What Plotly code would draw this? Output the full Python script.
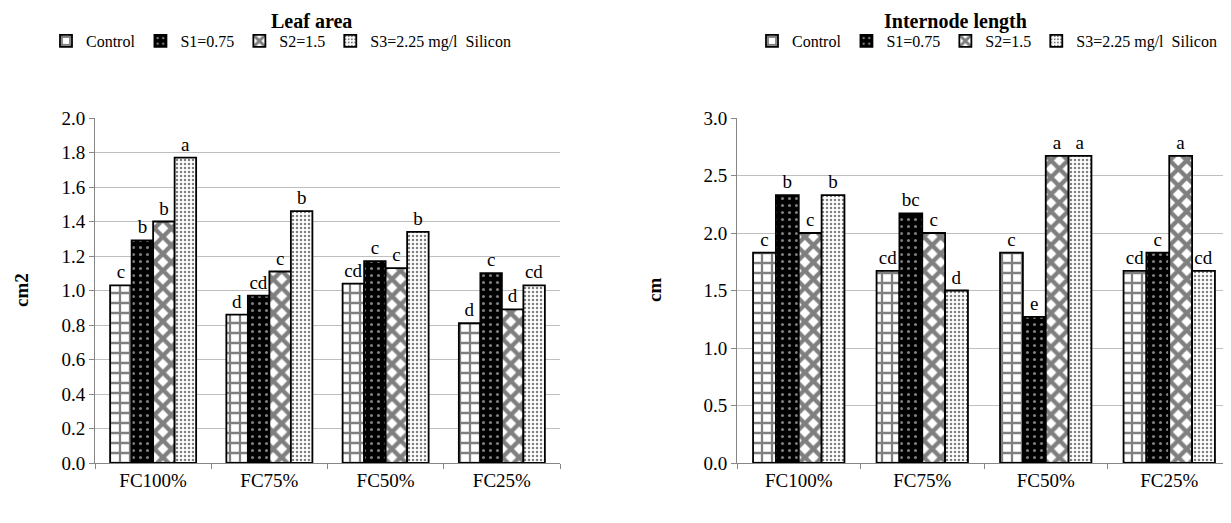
import plotly.graph_objects as go

categories = ["FC100%", "FC75%", "FC50%", "FC25%"]
series_names = ["Control", "S1=0.75", "S2=1.5", "S3=2.25 mg/l  Silicon"]

leaf_control = [1.03, 0.86, 1.04, 0.81]
leaf_s1 = [1.29, 0.97, 1.17, 1.10]
leaf_s2 = [1.40, 1.11, 1.13, 0.89]
leaf_s3 = [1.77, 1.46, 1.34, 1.03]
leaf_lbl_control = ["c", "d", "cd", "d"]
leaf_lbl_s1 = ["b", "cd", "c", "c"]
leaf_lbl_s2 = ["b", "c", "c", "d"]
leaf_lbl_s3 = ["a", "b", "b", "cd"]

int_control = [1.83, 1.67, 1.83, 1.67]
int_s1 = [2.33, 2.17, 1.27, 1.83]
int_s2 = [2.00, 2.00, 2.67, 2.67]
int_s3 = [2.33, 1.50, 2.67, 1.67]
int_lbl_control = ["c", "cd", "c", "cd"]
int_lbl_s1 = ["b", "bc", "e", "c"]
int_lbl_s2 = ["c", "c", "a", "a"]
int_lbl_s3 = ["b", "d", "a", "cd"]

FONT = "Liberation Serif"
OFF = 8  # page body margin
W, H = 1231 - OFF, 523 - OFF

def px_x(rx):
    return (rx - OFF) / W

def px_y(ry):
    return (H - (ry - OFF)) / H

patterns = [
    dict(shape="+", fgcolor="black", bgcolor="white", size=10, solidity=0.4),
    dict(shape=".", fgcolor="white", bgcolor="black", size=7, solidity=0.15),
    dict(shape="x", fgcolor="black", bgcolor="white", size=12, solidity=0.6),
    dict(shape=".", fgcolor="black", bgcolor="white", size=4, solidity=0.3),
]

fig = go.Figure()

left_vals = [leaf_control, leaf_s1, leaf_s2, leaf_s3]
left_lbls = [leaf_lbl_control, leaf_lbl_s1, leaf_lbl_s2, leaf_lbl_s3]
right_vals = [int_control, int_s1, int_s2, int_s3]
right_lbls = [int_lbl_control, int_lbl_s1, int_lbl_s2, int_lbl_s3]

for i, name in enumerate(series_names):
    fig.add_trace(go.Bar(
        x=categories, y=left_vals[i], name=name, text=left_lbls[i],
        textposition="outside", constraintext="none", cliponaxis=False,
        textfont=dict(family=FONT, size=19, color="black"),
        marker=dict(color="white", pattern=patterns[i],
                    line=dict(color="black", width=1.8)),
        xaxis="x", yaxis="y", legend="legend", offsetgroup=str(i),
        hoverinfo="skip",
    ))
for i, name in enumerate(series_names):
    fig.add_trace(go.Bar(
        x=categories, y=right_vals[i], name=name, text=right_lbls[i],
        textposition="outside", constraintext="none", cliponaxis=False,
        textfont=dict(family=FONT, size=19, color="black"),
        marker=dict(color="white", pattern=patterns[i],
                    line=dict(color="black", width=1.8)),
        xaxis="x2", yaxis="y2", legend="legend2", offsetgroup=str(i),
        hoverinfo="skip",
    ))

ydom = [px_y(463), px_y(118)]
axis_common = dict(showline=True, linecolor="#868686", linewidth=1,
                   ticks="outside", tickcolor="#868686", ticklen=5,
                   tickfont=dict(family=FONT, size=19, color="black"),
                   automargin=False, zeroline=False)

legend_common = dict(orientation="h", xanchor="center", yanchor="middle",
                     y=px_y(41), font=dict(family=FONT, size=16, color="black"),
                     itemwidth=30, bgcolor="rgba(0,0,0,0)",
                     traceorder="normal")

fig.update_layout(
    width=W, height=H,
    margin=dict(l=0, r=0, t=0, b=0),
    paper_bgcolor="white", plot_bgcolor="white",
    barmode="group", bargap=0.26, bargroupgap=0,
    font=dict(family=FONT, size=16, color="black"),
    showlegend=True,
    xaxis=dict(domain=[px_x(95), px_x(560)], anchor="y",
               tickson="boundaries", showgrid=False, **axis_common),
    yaxis=dict(domain=ydom, anchor="x", range=[0, 2.0], dtick=0.2,
               tickformat=".1f", showgrid=True, gridcolor="#bfbfbf",
               gridwidth=1, **axis_common),
    xaxis2=dict(domain=[px_x(737), 1.0], anchor="y2",
                tickson="boundaries", showgrid=False, **axis_common),
    yaxis2=dict(domain=ydom, anchor="x2", range=[0, 3.0], dtick=0.5,
                tickformat=".1f", showgrid=True, gridcolor="#bfbfbf",
                gridwidth=1, **axis_common),
    legend=dict(x=px_x(281), **legend_common),
    legend2=dict(x=px_x(987), **legend_common),
    annotations=[
        dict(text="<b>Leaf area</b>", x=px_x(311), y=1.0,
             xref="paper", yref="paper", showarrow=False,
             xanchor="center", yanchor="top",
             font=dict(family=FONT, size=20, color="black")),
        dict(text="<b>Internode length</b>", x=px_x(955), y=1.0,
             xref="paper", yref="paper", showarrow=False,
             xanchor="center", yanchor="top",
             font=dict(family=FONT, size=20, color="black")),
        dict(text="<b>cm2</b>", x=px_x(22), y=px_y(290), textangle=-90,
             xref="paper", yref="paper", showarrow=False,
             xanchor="center", yanchor="middle",
             font=dict(family=FONT, size=19, color="black")),
        dict(text="<b>cm</b>", x=px_x(655), y=px_y(290), textangle=-90,
             xref="paper", yref="paper", showarrow=False,
             xanchor="center", yanchor="middle",
             font=dict(family=FONT, size=19, color="black")),
    ],
)

fig.write_html("out.html")
